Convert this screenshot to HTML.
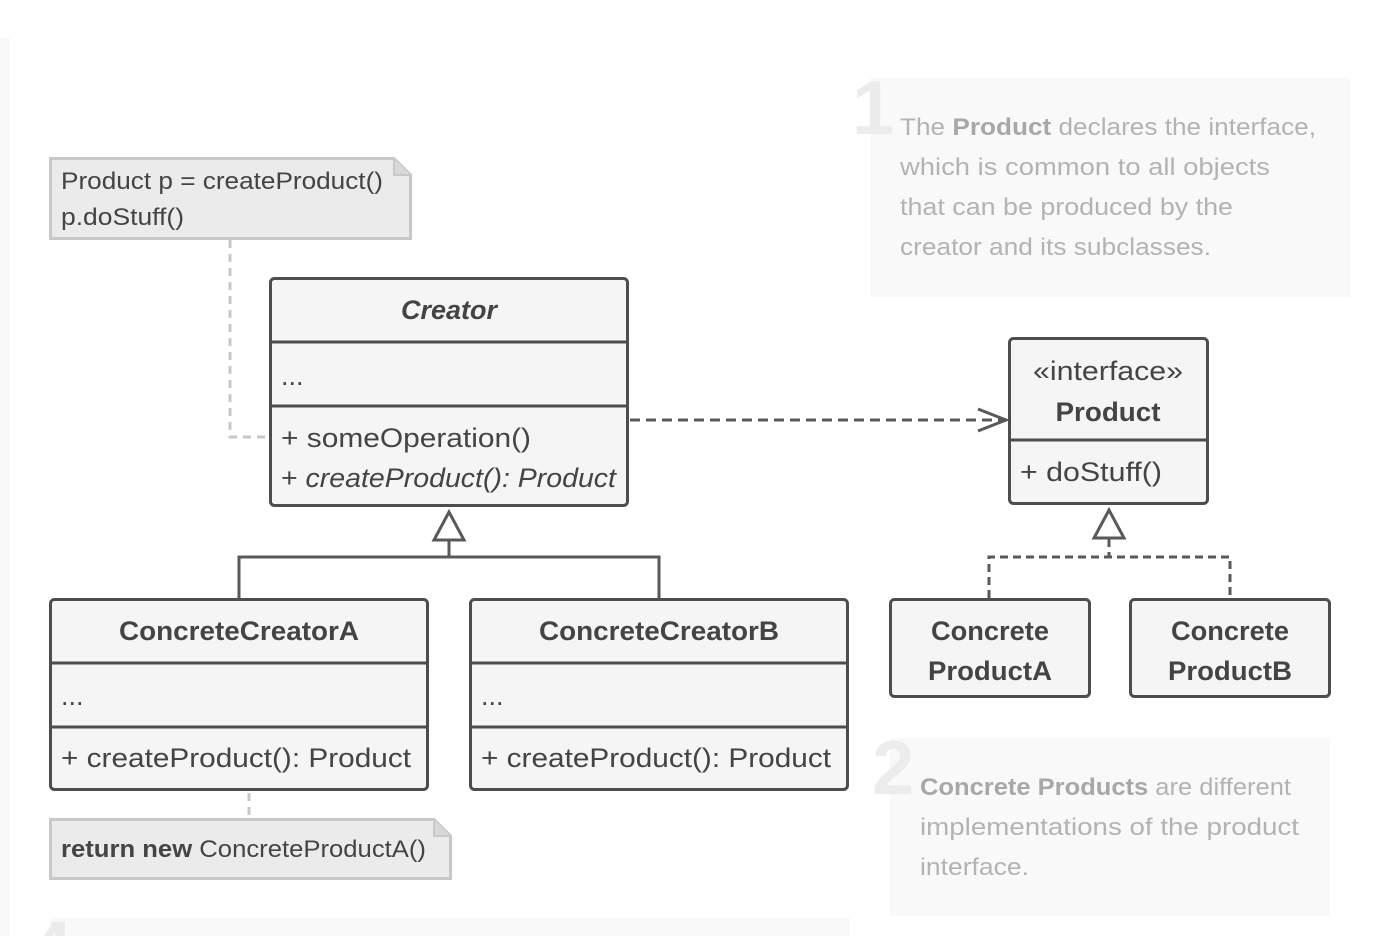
<!DOCTYPE html>
<html><head><meta charset="utf-8"><style>
html,body{margin:0;padding:0;background:#fff;width:1390px;height:936px;overflow:hidden;}
svg{display:block;}
text{font-family:"Liberation Sans",sans-serif;}
</style></head><body>
<svg width="1390" height="936" viewBox="0 0 1390 936" xmlns="http://www.w3.org/2000/svg">
<rect x="0" y="38" width="10" height="898" fill="#f9f9f9"/>
<!-- panel 1 -->
<rect x="870" y="78" width="480" height="219" fill="#f9f9f9"/>
<text x="852" y="134" font-size="76" font-weight="bold" fill="#ececec">1</text>
<g font-size="24" fill="#b3b3b3">
<text x="900" y="135" textLength="416" lengthAdjust="spacingAndGlyphs">The <tspan font-weight="bold" fill="#a8a8a8">Product</tspan> declares the interface,</text>
<text x="900" y="175" textLength="370" lengthAdjust="spacingAndGlyphs">which is common to all objects</text>
<text x="900" y="215" textLength="333" lengthAdjust="spacingAndGlyphs">that can be produced by the</text>
<text x="900" y="255" textLength="311" lengthAdjust="spacingAndGlyphs">creator and its subclasses.</text>
</g>
<!-- panel 2 -->
<rect x="890" y="738" width="440" height="178" fill="#f9f9f9"/>
<text x="872" y="794" font-size="76" font-weight="bold" fill="#ececec">2</text>
<g font-size="24" fill="#b3b3b3">
<text x="920" y="795" textLength="371" lengthAdjust="spacingAndGlyphs"><tspan font-weight="bold" fill="#a8a8a8">Concrete Products</tspan> are different</text>
<text x="920" y="835" textLength="379" lengthAdjust="spacingAndGlyphs">implementations of the product</text>
<text x="920" y="875" textLength="109" lengthAdjust="spacingAndGlyphs">interface.</text>
</g>
<!-- panel 4 -->
<rect x="50" y="918" width="800" height="18" fill="#f9f9f9"/>
<text x="30" y="974" font-size="76" font-weight="bold" fill="#ececec">4</text>

<!-- note 1 -->
<path d="M50.5 158.5 H394 L410.5 175 V238.5 H50.5 Z" fill="#ebebeb" stroke="#c8c8c8" stroke-width="3"/>
<path d="M394 158.5 V175 H410.5" fill="#d8d8d8" stroke="#c8c8c8" stroke-width="2"/>
<g font-size="24" fill="#444">
<text x="61" y="189" textLength="322" lengthAdjust="spacingAndGlyphs">Product p = createProduct()</text>
<text x="61" y="225" textLength="123" lengthAdjust="spacingAndGlyphs">p.doStuff()</text>
</g>
<path d="M230 240 V437 H268" fill="none" stroke="#c8c8c8" stroke-width="3" stroke-dasharray="8 6"/>

<!-- note 2 -->
<path d="M249 793 V818" stroke="#c8c8c8" stroke-width="3" stroke-dasharray="8 6"/>
<path d="M50.5 819.5 H434 L450.5 836 V878.5 H50.5 Z" fill="#ebebeb" stroke="#c8c8c8" stroke-width="3"/>
<path d="M434 819.5 V836 H450.5" fill="#d8d8d8" stroke="#c8c8c8" stroke-width="2"/>
<text x="61" y="857" font-size="24" fill="#444" textLength="365" lengthAdjust="spacingAndGlyphs"><tspan font-weight="bold">return new</tspan> ConcreteProductA()</text>

<g stroke="#4d4d4d" stroke-width="3" fill="#f5f5f5">
<rect x="270.5" y="278.5" width="357" height="227" rx="4"/>
<line x1="270" y1="342" x2="628" y2="342"/>
<line x1="270" y1="406" x2="628" y2="406"/>
<rect x="1009.5" y="338.5" width="198" height="165" rx="4"/>
<line x1="1009" y1="440" x2="1208" y2="440"/>
<rect x="50.5" y="599.5" width="377" height="190" rx="4"/>
<line x1="50" y1="663" x2="428" y2="663"/>
<line x1="50" y1="727" x2="428" y2="727"/>
<rect x="470.5" y="599.5" width="377" height="190" rx="4"/>
<line x1="470" y1="663" x2="848" y2="663"/>
<line x1="470" y1="727" x2="848" y2="727"/>
<rect x="890.5" y="599.5" width="199" height="97" rx="4"/>
<rect x="1130.5" y="599.5" width="199" height="97" rx="4"/>
</g>

<g stroke="#595959" stroke-width="3" fill="none">
<path d="M630 420 H1004" stroke-dasharray="10 6"/>
<path d="M978 409 L1006 420 L978 431"/>
<path d="M449 541 V557 M239 598 V557 H659 V598"/>
<path d="M449 512 L434 540 H464 Z" fill="#fff"/>
<path d="M1109 539 V557 M989 598 V557 H1230 V598" stroke-dasharray="8 5"/>
<path d="M1109 510 L1094 538 H1124 Z" fill="#fff"/>
</g>

<g fill="#444" font-size="27">
<text x="449" y="319" text-anchor="middle" font-weight="bold" font-style="italic" textLength="96" lengthAdjust="spacingAndGlyphs">Creator</text>
<text x="281" y="385">...</text>
<text x="281" y="447" textLength="250" lengthAdjust="spacingAndGlyphs">+ someOperation()</text>
<text x="281" y="487" textLength="335" lengthAdjust="spacingAndGlyphs">+ <tspan font-style="italic">createProduct(): Product</tspan></text>
<text x="1108" y="380" text-anchor="middle" textLength="150" lengthAdjust="spacingAndGlyphs">«interface»</text>
<text x="1108" y="421" text-anchor="middle" font-weight="bold" textLength="105" lengthAdjust="spacingAndGlyphs">Product</text>
<text x="1020" y="481" textLength="142" lengthAdjust="spacingAndGlyphs">+ doStuff()</text>
<text x="239" y="640" text-anchor="middle" font-weight="bold" textLength="240" lengthAdjust="spacingAndGlyphs">ConcreteCreatorA</text>
<text x="61" y="705">...</text>
<text x="61" y="767" textLength="350" lengthAdjust="spacingAndGlyphs">+ createProduct(): Product</text>
<text x="659" y="640" text-anchor="middle" font-weight="bold" textLength="240" lengthAdjust="spacingAndGlyphs">ConcreteCreatorB</text>
<text x="481" y="705">...</text>
<text x="481" y="767" textLength="350" lengthAdjust="spacingAndGlyphs">+ createProduct(): Product</text>
<text x="990" y="640" text-anchor="middle" font-weight="bold" textLength="118" lengthAdjust="spacingAndGlyphs">Concrete</text>
<text x="990" y="680" text-anchor="middle" font-weight="bold" textLength="124" lengthAdjust="spacingAndGlyphs">ProductA</text>
<text x="1230" y="640" text-anchor="middle" font-weight="bold" textLength="118" lengthAdjust="spacingAndGlyphs">Concrete</text>
<text x="1230" y="680" text-anchor="middle" font-weight="bold" textLength="124" lengthAdjust="spacingAndGlyphs">ProductB</text>
</g>
</svg>
</body></html>
